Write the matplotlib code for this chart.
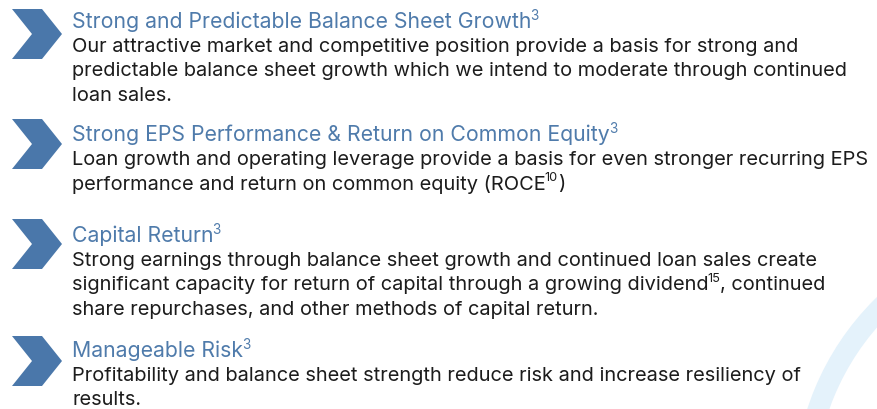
import re
import matplotlib
matplotlib.use("Agg")
import matplotlib.pyplot as plt
from matplotlib.patches import Polygon, Wedge

# text content; <n> marks a superscript
titles = [
    "Strong and Predictable Balance Sheet Growth<3>",
    "Strong EPS Performance & Return on Common Equity<3>",
    "Capital Return<3>",
    "Manageable Risk<3>",
]
bodies = [
    ["Our attractive market and competitive position provide a basis for strong and",
     "predictable balance sheet growth which we intend to moderate through continued",
     "loan sales."],
    ["Loan growth and operating leverage provide a basis for even stronger recurring EPS",
     "performance and return on common equity (ROCE<10>)"],
    ["Strong earnings through balance sheet growth and continued loan sales create",
     "significant capacity for return of capital through a growing dividend<15>, continued",
     "share repurchases, and other methods of capital return."],
    ["Profitability and balance sheet strength reduce risk and increase resiliency of",
     "results."],
]

# layout (pixels)
W, H = 877, 410
title_y = [22, 135, 236, 351]
chev_top = [10, 120, 220, 337]
line_step = 24.6
text_x = 72

fig = plt.figure(figsize=(W / 100, H / 100), dpi=100)
ax = fig.add_axes([0, 0, 1, 1])
ax.set_xlim(0, W)
ax.set_ylim(H, 0)
ax.axis("off")
fig.canvas.draw()
renderer = fig.canvas.get_renderer()

# decorative arc
ax.add_patch(Wedge((1067, 494), 273, 0, 360, width=21,
                   facecolor="#e4f2fb", edgecolor="none", zorder=0))

fam = ["Inter", "DejaVu Sans"]
blue = "#4f7bab"
chev_col = "#4a77aa"
dark = "#1c1c1c"


def rich(x, y, s, size, color):
    parts = re.split(r"(<[^>]+>)", s)
    for p in parts:
        if not p:
            continue
        if p.startswith("<"):
            txt = p[1:-1]
            t = ax.text(x - 1, y - size * 0.42, txt, fontsize=size * 0.64, color=color,
                        family=fam, va="center", ha="left")
            bb = t.get_window_extent(renderer)
            x += bb.width - 1
        else:
            t = ax.text(x, y, p, fontsize=size, color=color, family=fam,
                        va="center", ha="left")
            bb = t.get_window_extent(renderer)
            x += bb.width


for i, (t, body) in enumerate(zip(titles, bodies)):
    top = chev_top[i]
    x0 = 12
    pts = [(x0, top), (x0 + 30, top), (x0 + 50, top + 25), (x0 + 30, top + 50),
           (x0, top + 50), (x0 + 20, top + 25)]
    ax.add_patch(Polygon(pts, closed=True, facecolor=chev_col, edgecolor="none"))
    rich(text_x, title_y[i], t, 15.3, blue)
    for j, line in enumerate(body):
        rich(text_x, title_y[i] + line_step * (j + 1), line, 14.4, dark)

fig.savefig("out.png", dpi=100, facecolor="white")
